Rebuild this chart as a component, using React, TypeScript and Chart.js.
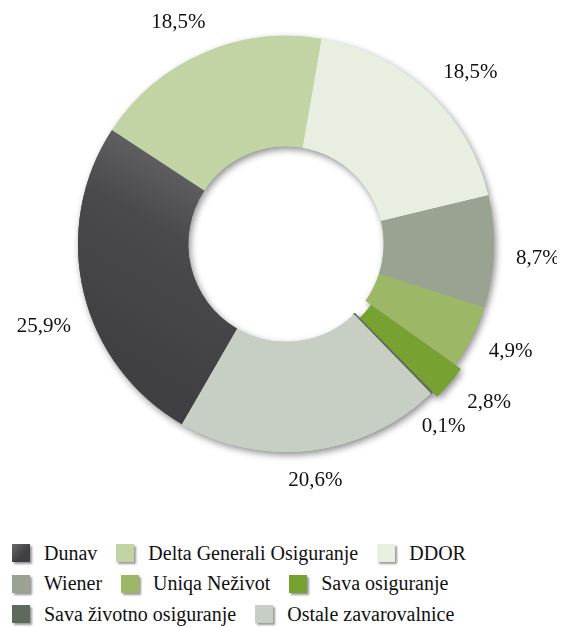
import React, { useEffect, useRef } from "react";
import { Chart, registerables } from "chart.js";

Chart.register(...registerables);

const categories = [
  "Dunav",
  "Delta Generali Osiguranje",
  "DDOR",
  "Wiener",
  "Uniqa Neživot",
  "Sava osiguranje",
  "Sava životno osiguranje",
  "Ostale zavarovalnice",
];
const shares = [25.9, 18.5, 18.5, 8.7, 4.9, 2.8, 0.1, 20.6];
const shareLabels = ["25,9%", "18,5%", "18,5%", "8,7%", "4,9%", "2,8%", "0,1%", "20,6%"];
const colors = ["#454547", "#c2d4a3", "#e8efe0", "#9aa391", "#9cb866", "#77a131", "#5f695d", "#c7cfc5"];
const offsets = [0, 0, 0, 0, 0, 15, 0, 0];
// label placement tweaks so that neighbouring labels do not collide
const labelNudge = [-5.5, -2.5, 4, 1.2, -1, -2.5, 3.5, 0];
const labelGap = [19, 17, 17, 22, 17, 11, 11, 17];

const SERIF = "'Liberation Serif', 'Times New Roman', serif";

const shadowPlugin = {
  id: "ringShadow",
  beforeDatasetsDraw(chart: any) {
    const ctx = chart.ctx;
    const meta = chart.getDatasetMeta(0);
    ctx.save();
    ctx.shadowColor = "rgba(0,0,0,0.45)";
    ctx.shadowBlur = 7;
    ctx.shadowOffsetX = 2;
    ctx.shadowOffsetY = 3;
    meta.data.forEach((arc: any) => arc.draw(ctx, chart.chartArea));
    ctx.restore();
  },
};

const labelPlugin = {
  id: "outLabels",
  afterDatasetsDraw(chart: any) {
    const ctx = chart.ctx;
    const meta = chart.getDatasetMeta(0);
    ctx.save();
    ctx.font = `21px ${SERIF}`;
    ctx.fillStyle = "#111";
    ctx.textAlign = "center";
    ctx.textBaseline = "middle";
    meta.data.forEach((arc: any, i: number) => {
      const p = arc.getProps(["x", "y", "startAngle", "endAngle", "outerRadius"], true);
      const mid = (p.startAngle + p.endAngle) / 2 + (labelNudge[i] * Math.PI) / 180;
      const ux = Math.cos(mid);
      const uy = Math.sin(mid);
      const hw = ctx.measureText(shareLabels[i]).width / 2;
      const hh = 10;
      const r = p.outerRadius + offsets[i] + labelGap[i] + hw * Math.abs(ux) + hh * Math.abs(uy);
      ctx.fillText(shareLabels[i], p.x + ux * r, p.y + uy * r);
    });
    ctx.restore();
  },
};

export default function App() {
  const ref = useRef<HTMLCanvasElement>(null);
  useEffect(() => {
    if (!ref.current) return;
    const chart = new Chart(ref.current, {
      type: "doughnut",
      data: {
        labels: categories,
        datasets: [
          {
            data: shares,
            backgroundColor: (c: any) => {
              const i = c.dataIndex;
              if (i === 0 && c.chart.chartArea) {
                const g = c.chart.ctx.createLinearGradient(88, 330, 198, 140);
                g.addColorStop(0, "#404042");
                g.addColorStop(0.6, "#4a4a4c");
                g.addColorStop(1, "#69696c");
                return g;
              }
              return colors[i];
            },
            borderWidth: [0, 0, 0, 0, 0, 0, 1.5, 0],
            borderColor: colors,
            offset: offsets,
            hoverOffset: 0,
          },
        ],
      },
      options: {
        responsive: false,
        animation: false,
        rotation: 210,
        cutout: "47%",
        layout: { padding: { left: 69.75, right: 62.75, top: 19.75, bottom: 47.75 } },
        plugins: { legend: { display: false }, tooltip: { enabled: false } },
        events: [],
      },
      plugins: [shadowPlugin, labelPlugin],
    });
    return () => chart.destroy();
  }, []);

  return (
    <div style={{ width: 549 }}>
      <canvas ref={ref} width={565} height={500} style={{ display: "block", marginLeft: -8 }} />
      <div
        style={{
          display: "flex",
          flexWrap: "wrap",
          paddingLeft: 4,
          marginTop: 30,
          fontFamily: SERIF,
          fontSize: 20,
          color: "#111",
        }}
      >
        {categories.map((c, i) => (
          <div key={c} style={{ display: "flex", alignItems: "center", height: 30.5, marginRight: 19 }}>
            <span
              style={{
                display: "inline-block",
                width: 18,
                height: 18,
                background: i === 0 ? "linear-gradient(135deg, #6a6a6c, #404042 60%)" : colors[i],
                boxShadow: "2px 2px 2px rgba(0,0,0,0.4)",
                marginRight: 14,
              }}
            />
            <span>{c}</span>
          </div>
        ))}
      </div>
    </div>
  );
}
